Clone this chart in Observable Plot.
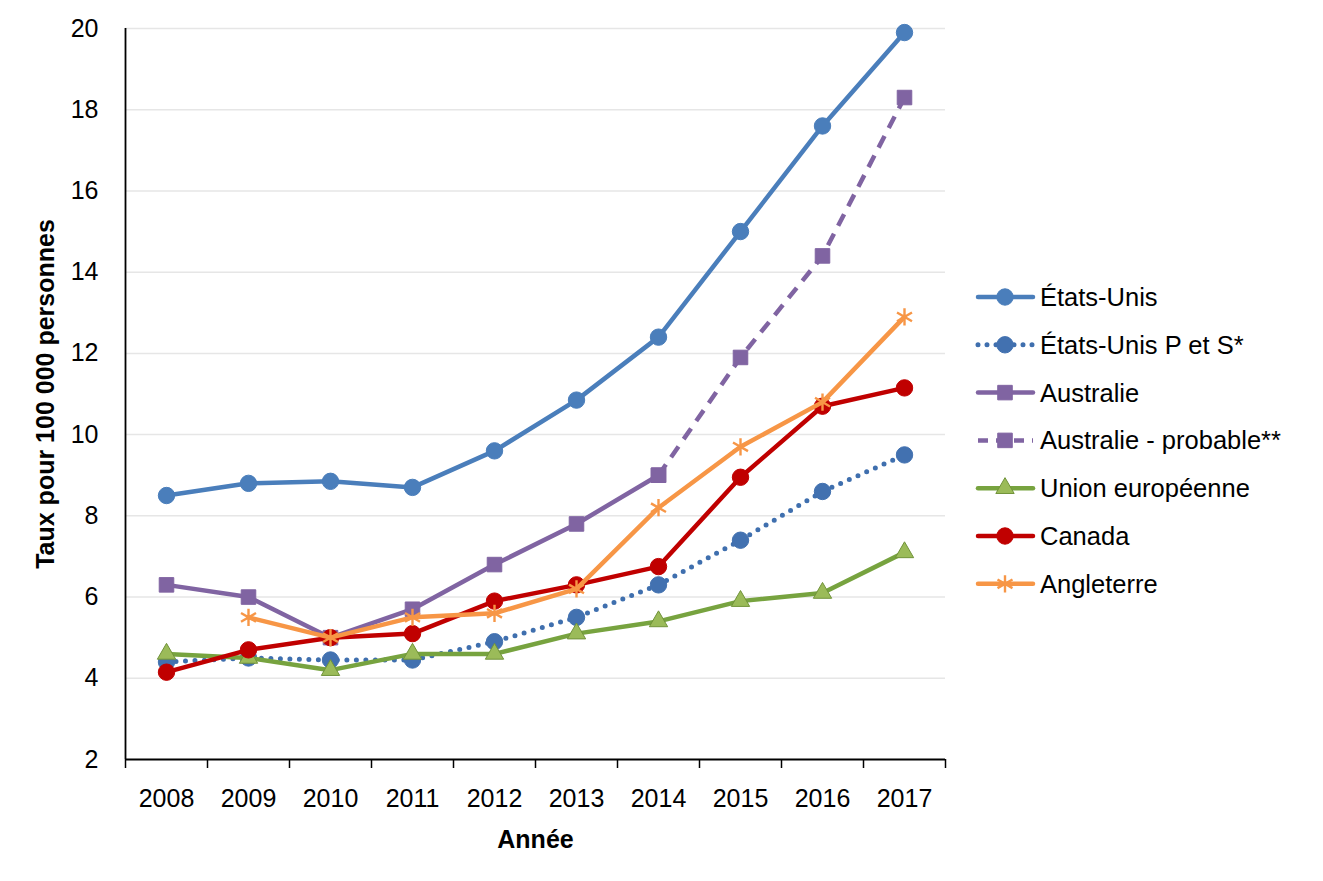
<!DOCTYPE html>
<html>
<head>
<meta charset="utf-8">
<script src="https://cdn.jsdelivr.net/npm/d3@7"></script>
<script src="https://cdn.jsdelivr.net/npm/@observablehq/plot@0.6"></script>
<style>
  html, body { margin: 0; padding: 0; background: #fff; }
  #wrap { position: relative; width: 1323px; height: 881px; }
  #legend { position: absolute; left: 0; top: 0; pointer-events: none; }
</style>
</head>
<body>
<div id="wrap"></div>
<script>
// ---- Data ----
const years = [2008, 2009, 2010, 2011, 2012, 2013, 2014, 2015, 2016, 2017];
const yTicks = [2, 4, 6, 8, 10, 12, 14, 16, 18, 20];
const etatsUnis = [8.5, 8.8, 8.85, 8.7, 9.6, 10.85, 12.4, 15.0, 17.6, 19.9];
const etatsUnisPS = [4.4, 4.5, 4.45, 4.45, 4.9, 5.5, 6.3, 7.4, 8.6, 9.5];
const australie = [6.3, 6.0, 5.0, 5.7, 6.8, 7.8, 9.0, null, null, null];
const australieProbable = [null, null, null, null, null, null, 9.0, 11.9, 14.4, 18.3];
const unionEuropeenne = [4.6, 4.5, 4.2, 4.6, 4.6, 5.1, 5.4, 5.9, 6.1, 7.1];
const canada = [4.15, 4.7, 5.0, 5.1, 5.9, 6.3, 6.75, 8.95, 10.7, 11.15];
const angleterre = [null, 5.5, 5.0, 5.5, 5.6, 6.2, 8.2, 9.7, 10.8, 12.9];
const seriesNames = ["États-Unis", "États-Unis P et S*", "Australie", "Australie - probable**", "Union européenne", "Canada", "Angleterre"];
const seriesValues = [etatsUnis, etatsUnisPS, australie, australieProbable, unionEuropeenne, canada, angleterre];
const xTitle = "Année";
const yTitle = "Taux pour 100 000 personnes";

// ---- Styles ----
const styles = {
  "États-Unis": {stroke: "#4a7ebb", width: 4.5, dash: null, cap: "round", symbol: "circle", r: 8.2, fill: "#4a7ebb", mstroke: "#4a7ebb"},
  "États-Unis P et S*": {stroke: "#3f6fae", width: 5, dash: "0 9.5", cap: "round", symbol: "circle", r: 8.2, fill: "#4271b0", mstroke: "#4271b0"},
  "Australie": {stroke: "#8064a2", width: 4.5, dash: null, cap: "round", symbol: "square", r: 8.2, fill: "#8064a2", mstroke: "#8064a2"},
  "Australie - probable**": {stroke: "#8064a2", width: 4.5, dash: "13 9", cap: "butt", symbol: "square", r: 8.2, fill: "#8064a2", mstroke: "#8064a2"},
  "Union européenne": {stroke: "#77a33f", width: 4.5, dash: null, cap: "round", symbol: "triangle", r: 6.8, fill: "#9bbb59", mstroke: "#71933a"},
  "Canada": {stroke: "#c00000", width: 4.5, dash: null, cap: "round", symbol: "circle", r: 8.2, fill: "#c00000", mstroke: "#c00000"},
  "Angleterre": {stroke: "#f79646", width: 4.5, dash: null, cap: "round", symbol: "asterisk", r: 8.2, fill: "none", mstroke: "#f79646"}
};

const W = 1323, H = 881;
const FONT = "'Liberation Sans', Arial, sans-serif";

const series = seriesNames.map((name, i) => ({
  name,
  rows: years.map((year, j) => ({year, value: seriesValues[i][j]})).filter(d => d.value != null)
}));

const bounds = [...years.map(y => y - 0.5), years[years.length - 1] + 0.5];

const marks = [
  Plot.gridY(yTicks.filter(t => t > yTicks[0]), {stroke: "#e6e6e6", strokeOpacity: 1, strokeWidth: 1.5}),
  Plot.axisY(yTicks, {tickSize: 0, tickPadding: 27, fontSize: 25, label: null, fill: "#000"}),
  Plot.axisX(years, {tickSize: 0, tickPadding: 30, fontSize: 25, label: null, tickFormat: d => String(d), fill: "#000"}),
  Plot.axisX(bounds, {tickSize: 9, tickFormat: () => "", label: null, stroke: "#000", strokeWidth: 1.5}),
  Plot.ruleY([yTicks[0]], {stroke: "#000", strokeWidth: 1.8}),
  Plot.ruleX([bounds[0]], {stroke: "#000", strokeWidth: 1.8}),
];

for (const s of series) {
  const st = styles[s.name];
  marks.push(Plot.line(s.rows, {
    x: "year", y: "value", stroke: st.stroke, strokeWidth: st.width,
    strokeDasharray: st.dash, strokeLinecap: st.cap, strokeLinejoin: "round"
  }));
  marks.push(Plot.dot(s.rows, {
    x: "year", y: "value", symbol: st.symbol, r: st.r,
    fill: st.fill, stroke: st.mstroke, strokeWidth: st.symbol === "asterisk" ? 2.4 : 1
  }));
}

marks.push(Plot.text([xTitle], {frameAnchor: "bottom", dy: 88, fontSize: 25, fontWeight: "bold", fill: "#000"}));
marks.push(Plot.text([yTitle], {frameAnchor: "left", textAnchor: "middle", dx: -80, rotate: -90, fontSize: 25, fontWeight: "bold", fill: "#000"}));

const chart = Plot.plot({
  width: W, height: H,
  marginLeft: 125, marginRight: 378, marginTop: 28, marginBottom: 122,
  style: {fontFamily: FONT, color: "#000", background: "#fff", overflow: "visible"},
  x: {type: "linear", domain: [bounds[0], bounds[bounds.length - 1]], axis: null},
  y: {type: "linear", domain: [yTicks[0], yTicks[yTicks.length - 1]], axis: null},
  marks
});

const wrap = document.getElementById("wrap");
wrap.appendChild(chart);

// ---- Legend (overlay) ----
const symMap = {circle: d3.symbolCircle, square: d3.symbolSquare, triangle: d3.symbolTriangle, asterisk: d3.symbolAsterisk};
const lg = d3.select(wrap).append("svg").attr("id", "legend").attr("width", W).attr("height", H)
  .style("font-family", FONT);
seriesNames.forEach((name, i) => {
  const st = styles[name];
  const y = 297 + i * 47.8;
  const g = lg.append("g").attr("transform", `translate(0,${y})`);
  g.append("line").attr("x1", 978).attr("x2", 1033).attr("y1", 0).attr("y2", 0)
    .attr("stroke", st.stroke).attr("stroke-width", st.width)
    .attr("stroke-dasharray", name === "Australie - probable**" ? "10 8" : (st.dash ? "0 9" : null))
    .attr("stroke-linecap", st.cap);
  g.append("path").attr("transform", "translate(1005,0)")
    .attr("d", d3.symbol(symMap[st.symbol], Math.PI * st.r * st.r)())
    .attr("fill", st.fill).attr("stroke", st.mstroke)
    .attr("stroke-width", st.symbol === "asterisk" ? 2.4 : 1);
  g.append("text").attr("x", 1040).attr("y", 0).attr("dy", "0.35em")
    .attr("font-size", 25.5).attr("fill", "#000").text(name);
});
</script>
</body>
</html>
